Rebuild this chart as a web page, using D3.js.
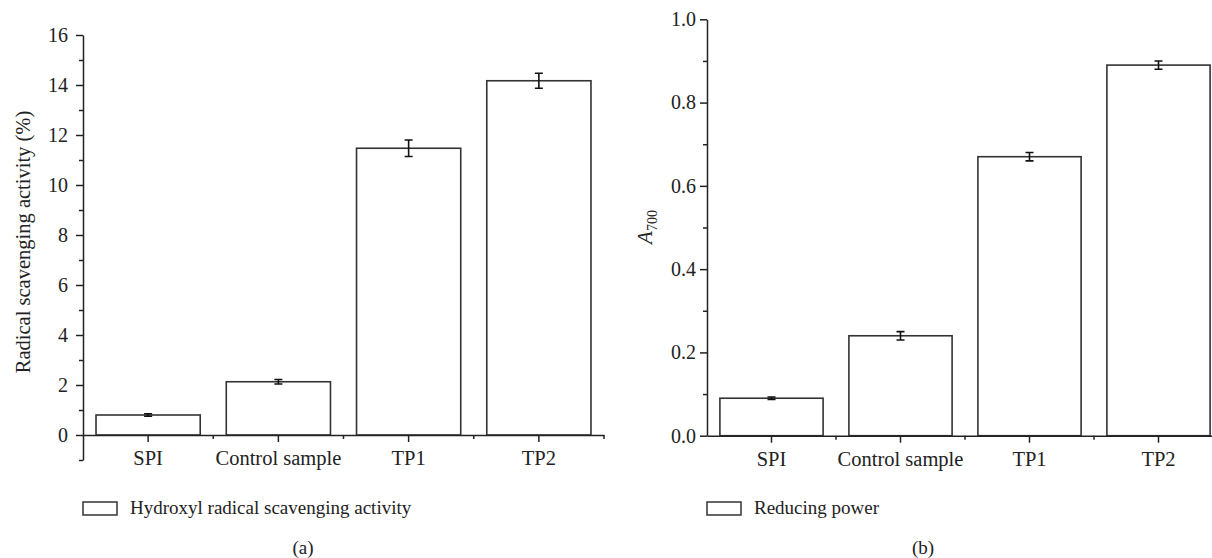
<!DOCTYPE html>
<html>
<head>
<meta charset="utf-8">
<script src="https://cdn.jsdelivr.net/npm/d3@7"></script>
<style>
  body { margin: 0; background: #fff; }
  svg { display: block; font-family: "Liberation Serif", "Times New Roman", serif; }
  .axis path, .axis line { stroke: #222; stroke-width: 1.5; }
  .axis text { font-size: 20px; fill: #222; font-family: "Liberation Serif", serif; }
  .xaxis text { font-size: 20.5px; }
  .bar { fill: #fff; stroke: #333; stroke-width: 1.6; }
  .err { stroke: #111; stroke-width: 1.6; fill: none; }
  .label { font-size: 19px; fill: #222; }
  .ylabel { font-size: 20.5px; fill: #222; }
</style>
</head>
<body>
<svg id="chart" width="1212" height="558"></svg>
<script>
const categories     = ["SPI", "Control sample", "TP1", "TP2"];
const hydroxylValues = [0.8, 2.13, 11.47, 14.17];
const hydroxylErrors = [0.05, 0.09, 0.33, 0.3];
const reducingValues = [0.09, 0.24, 0.67, 0.89];
const reducingErrors = [0.003, 0.01, 0.01, 0.01];
const hydroxylTicks  = [0, 2, 4, 6, 8, 10, 12, 14, 16];
const hydroxylMinor  = [-1, 1, 3, 5, 7, 9, 11, 13, 15];
const reducingTicks  = [0, 0.2, 0.4, 0.6, 0.8, 1.0];
const reducingMinor  = [0.1, 0.3, 0.5, 0.7, 0.9];

const svg = d3.select("#chart");

function drawPanel(p) {
  const g = svg.append("g");
  const x = d3.scaleBand().domain(categories).range(p.xRange);
  const y = d3.scaleLinear().domain(p.yDomain).range(p.yRange);
  const y0 = y(0);

  // bars
  g.selectAll(".bar")
    .data(categories)
    .join("rect")
      .attr("class", "bar")
      .attr("x", d => x(d) + x.bandwidth() * 0.1)
      .attr("width", x.bandwidth() * 0.8)
      .attr("y", (d, i) => y(p.values[i]))
      .attr("height", (d, i) => y0 - y(p.values[i]));

  // error bars
  const cap = 4;
  categories.forEach((c, i) => {
    const cx = x(c) + x.bandwidth() / 2;
    const hi = y(p.values[i] + p.errors[i]);
    const lo = y(p.values[i] - p.errors[i]);
    g.append("path")
      .attr("class", "err")
      .attr("d", `M${cx},${hi}V${lo}M${cx - cap},${hi}H${cx + cap}M${cx - cap},${lo}H${cx + cap}`);
  });

  // y axis
  g.append("g").attr("class", "axis")
    .attr("transform", `translate(${p.xRange[0]},0)`)
    .call(d3.axisLeft(y).tickValues(p.ticks).tickSize(7).tickSizeOuter(0)
      .tickPadding(p.yPad).tickFormat(p.fmt));
  g.append("g").attr("class", "axis")
    .attr("transform", `translate(${p.xRange[0]},0)`)
    .call(d3.axisLeft(y).tickValues(p.minor).tickSize(4).tickFormat(""))
    .call(ax => ax.select(".domain").remove());

  // x axis
  g.append("g").attr("class", "axis xaxis")
    .attr("transform", `translate(0,${y0})`)
    .call(d3.axisBottom(x).tickSize(7).tickSizeOuter(0).tickPadding(8.5));
  const bounds = categories.map(c => x(c)).slice(1).concat([p.xRange[1]]);
  g.append("g").attr("class", "axis")
    .selectAll("line")
    .data(bounds)
    .join("line")
      .attr("x1", d => d).attr("x2", d => d)
      .attr("y1", y0).attr("y2", y0 + 4);

  // y label
  const yl = g.append("text")
    .attr("class", "ylabel")
    .attr("text-anchor", "middle")
    .attr("transform", `translate(${p.yLabelX},${p.yLabelY}) rotate(-90)`);
  p.yLabel(yl);

  // legend
  g.append("rect")
    .attr("x", p.legendX).attr("y", 502)
    .attr("width", 34).attr("height", 13)
    .attr("fill", "#fff").attr("stroke", "#333").attr("stroke-width", 1.5);
  g.append("text")
    .attr("class", "label")
    .attr("x", p.legendX + 47).attr("y", 514)
    .text(p.legend);

  g.append("text")
    .attr("class", "label")
    .attr("text-anchor", "middle")
    .attr("x", p.tagX).attr("y", 554)
    .text(p.tag);
}

drawPanel({
  xRange: [83, 604],
  yDomain: [-1, 16],
  yRange: [460, 35],
  values: hydroxylValues,
  errors: hydroxylErrors,
  ticks: hydroxylTicks,
  minor: hydroxylMinor,
  fmt: d3.format("d"),
  yPad: 8,
  yLabelX: 30,
  yLabelY: 242,
  yLabel: t => t.text("Radical scavenging activity (%)"),
  legendX: 83,
  legend: "Hydroxyl radical scavenging activity",
  tagX: 303,
  tag: "(a)"
});

drawPanel({
  xRange: [707, 1223],
  yDomain: [0, 1],
  yRange: [435.7, 19.3],
  values: reducingValues,
  errors: reducingErrors,
  ticks: reducingTicks,
  minor: reducingMinor,
  fmt: d3.format(".1f"),
  yPad: 4,
  yLabelX: 652,
  yLabelY: 227,
  yLabel: t => {
    t.append("tspan").attr("font-style", "italic").attr("font-size", 21).text("A");
    t.append("tspan").attr("font-size", 14).attr("dy", 5).text("700");
  },
  legendX: 707,
  legend: "Reducing power",
  tagX: 923,
  tag: "(b)"
});
</script>
</body>
</html>
